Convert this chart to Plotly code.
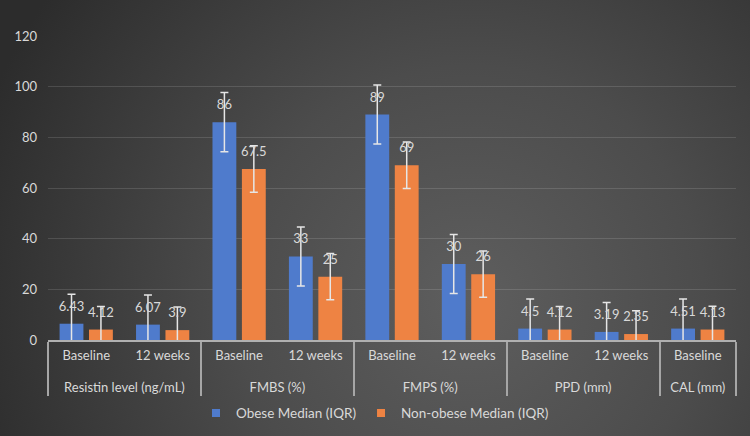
import base64
import plotly.graph_objects as go

# ---- data ----
groups = ["Resistin level (ng/mL)", "Resistin level (ng/mL)", "FMBS (%)", "FMBS (%)",
          "FMPS (%)", "FMPS (%)", "PPD (mm)", "PPD (mm)", "CAL (mm)"]
times = ["Baseline", "12 weeks", "Baseline", "12 weeks", "Baseline", "12 weeks",
         "Baseline", "12 weeks", "Baseline"]
obese = [6.43, 6.07, 86, 33, 89, 30, 4.5, 3.19, 4.51]
nonobese = [4.12, 3.9, 67.5, 25, 69, 26, 4.12, 2.35, 4.13]
obese_err = [11.65] * 9
nonobese_err = [9.15] * 9
series_names = ["Obese Median (IQR)", "Non-obese Median (IQR)"]
y_ticks = [0, 20, 40, 60, 80, 100, 120]

W, H = 750, 436
ML, MR, MT, MB = 48, 14, 36, 96
FONT = "Lato"
TXT = "#d9d9d9"

svg = f'''<svg xmlns="http://www.w3.org/2000/svg" width="{W}" height="{H}" viewBox="0 0 {W} {H}">
<defs><radialGradient id="g" gradientUnits="userSpaceOnUse" cx="470" cy="300" r="520">
<stop offset="0" stop-color="#5e5e5e"/><stop offset="0.45" stop-color="#4c4c4c"/><stop offset="1" stop-color="#2c2c2c"/>
</radialGradient></defs><rect width="{W}" height="{H}" fill="url(#g)"/></svg>'''
src = "data:image/svg+xml;base64," + base64.b64encode(svg.encode()).decode()

pw, ph = W - ML - MR, H - MT - MB

# group labels pushed one line lower (spacer line above)
groups_lbl = ["<br>" + g for g in groups]

fig = go.Figure()
series = [(series_names[0], obese, obese_err, "#4f7bcc"),
          (series_names[1], nonobese, nonobese_err, "#ee8343")]
for i, (name, vals, errs, col) in enumerate(series):
    fig.add_trace(go.Bar(
        name=name, x=[groups_lbl, times], y=vals, offsetgroup=str(i), alignmentgroup="a",
        marker=dict(color=col, line=dict(width=0)),
        error_y=dict(type="data", array=errs, visible=True, color="#e6e6e6", thickness=1.5, width=4),
        showlegend=False, hoverinfo="skip",
    ))
for i, (name, vals, errs, col) in enumerate(series):
    fig.add_trace(go.Scatter(
        x=[groups_lbl, times], y=vals, offsetgroup=str(i), alignmentgroup="a",
        mode="markers+text", text=[f"{v:g}" for v in vals], textposition="top center",
        marker=dict(size=14, opacity=0), textfont=dict(family=FONT, size=13, color=TXT),
        showlegend=False, hoverinfo="skip", cliponaxis=False,
    ))
# legend entries
for name, vals, errs, col in series:
    fig.add_trace(go.Scatter(
        x=[None], y=[None], name=name, mode="markers",
        marker=dict(symbol="square", size=8, color=col), showlegend=True,
    ))

fig.update_layout(
    width=W, height=H,
    margin=dict(l=ML, r=MR, t=MT, b=MB, pad=0),
    paper_bgcolor="#3a3a3a", plot_bgcolor="rgba(0,0,0,0)",
    barmode="group", bargap=0.23, bargroupgap=0.19, scattermode="group", scattergap=0.23,
    font=dict(family=FONT, size=13, color=TXT),
    showlegend=True,
    legend=dict(orientation="h", x=0.5, xanchor="center", xref="container", y=0.052, yanchor="middle",
                yref="container", font=dict(family=FONT, size=13.5, color=TXT), itemwidth=30,
                traceorder="normal", bgcolor="rgba(0,0,0,0)"),
    images=[dict(source=src, xref="paper", yref="paper", x=-ML / pw, y=1 + MT / ph,
                 sizex=W / pw, sizey=H / ph, sizing="stretch", layer="below", xanchor="left", yanchor="top")],
)
fig.update_xaxes(type="multicategory", range=[-0.5, 8.5], showline=True, linecolor="#b0b0b0", linewidth=1.5,
                 showdividers=True, dividercolor="#a6a6a6", dividerwidth=1.5, ticks="",
                 tickfont=dict(family=FONT, size=13, color=TXT), showgrid=False, zeroline=False,
                 ticklabelstandoff=3, automargin=False)
fig.update_yaxes(range=[0, 120], tickvals=y_ticks, showgrid=True, gridcolor="rgba(255,255,255,0.13)", gridwidth=1,
                 zeroline=False, showline=False, ticks="", tickfont=dict(family=FONT, size=13, color=TXT),
                 ticklabelstandoff=10, automargin=False)

fig.write_html("out.html")
